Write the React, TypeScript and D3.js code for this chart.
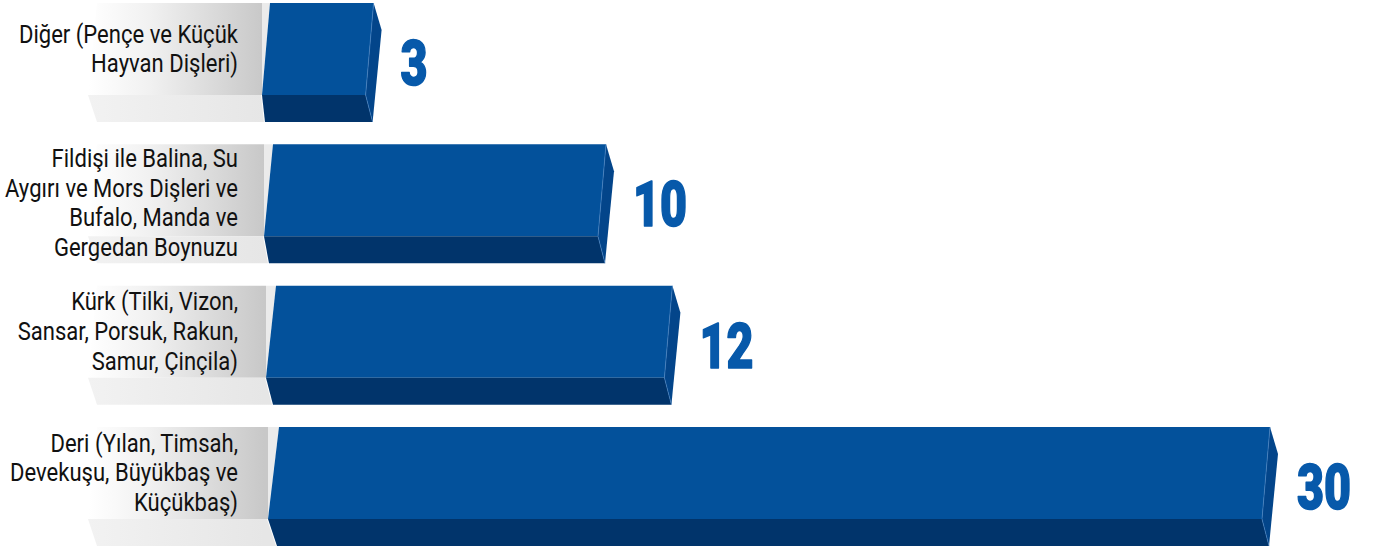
import React from 'react';
import * as d3 from 'd3';

const categoryLines: string[][] = [
  ['Diğer (Pençe ve Küçük', 'Hayvan Dişleri)'],
  ['Fildişi ile Balina, Su', 'Aygırı ve Mors Dişleri ve', 'Bufalo, Manda ve', 'Gergedan Boynuzu'],
  ['Kürk (Tilki, Vizon,', 'Sansar, Porsuk, Rakun,', 'Samur, Çinçila)'],
  ['Deri (Yılan, Timsah,', 'Devekuşu, Büyükbaş ve', 'Küçükbaş)'],
];
const values: number[] = [3, 10, 12, 30];
const categories: string[] = categoryLines.map((l) => l.join(' '));

const W = 1383;
const H = 551;

const pts = (p: number[][]) => p.map((d) => d.join(',')).join(' ');

export default function App() {
  const y = d3
    .scaleBand<string>()
    .domain(categories)
    .range([3, 546])
    .paddingInner(0.158)
    .paddingOuter(0);
  const x = d3.scaleLinear().domain([0, 30]).range([274, 1270]);
  const bh = y.bandwidth();

  return (
    <svg
      width={W}
      height={H}
      style={{ position: 'absolute', left: 0, top: 0, background: '#fff' }}
    >
      <defs>
        <linearGradient id="grayFace" gradientUnits="userSpaceOnUse" x1={88} x2={264} y1={0} y2={0}>
          <stop offset="0" stopColor="#ffffff" />
          <stop offset="0.35" stopColor="#f1f1f1" />
          <stop offset="1" stopColor="#c8c8c8" />
        </linearGradient>
        <linearGradient id="grayBand" gradientUnits="userSpaceOnUse" x1={88} x2={264} y1={0} y2={0}>
          <stop offset="0" stopColor="#f2f2f2" />
          <stop offset="1" stopColor="#e6e6e6" />
        </linearGradient>
      </defs>
      {categories.map((cat, i) => {
        const T = y(cat) as number;
        const B = T + bh;
        const J = T + bh * (92 / 119);
        const base = 262 + i * 2;
        const topLeft = 270 + i * 3;
        const bottomLeft = 265 + i * 4;
        const xR = x(values[i]);
        const sideY = T + bh * (27 / 119);
        const lines = categoryLines[i];
        const lh = 29.7;
        const firstBase = T + 1.5 + Math.max(21, 44 - ((lines.length - 1) * lh) / 2 + 9);
        const numBase = T + bh / 2 + 22.5;
        return (
          <g key={cat}>
            {/* gray label panel */}
            <polygon points={pts([[97, T], [base, T], [base, J], [88, J]])} fill="url(#grayFace)" />
            <polygon points={pts([[88, J], [base - 1, J], [bottomLeft - 1, B], [97, B]])} fill="url(#grayBand)" />
            <polygon points={pts([[base, T], [topLeft, T], [base, J]])} fill="#ebebeb" />
            {/* blue 3D bar */}
            <polygon points={pts([[topLeft, T], [xR, T], [xR - 8, J], [base, J]])} fill="#03519b" />
            <polygon points={pts([[base, J], [xR - 8, J], [xR - 1, B], [bottomLeft, B]])} fill="#01346b" />
            <polygon points={pts([[xR, T], [xR + 8, sideY], [xR - 1, B], [xR - 8, J]])} fill="#03458a" />
            <polyline
              points={pts([[xR, T], [xR - 8, J], [xR - 1, B]])}
              fill="none"
              stroke="#4a86c6"
              strokeWidth={0.8}
              opacity={0.8}
            />
            {/* category label */}
            {lines.map((ln, k) => (
              <text
                key={k}
                transform={`translate(238,${firstBase + k * lh}) scale(0.865,1)`}
                textAnchor="end"
                fontFamily="Roboto, 'Noto Sans', sans-serif"
                fontSize={25.5}
                fill="#111"
              >
                {ln}
              </text>
            ))}
            {/* value label */}
            <text
              transform={`translate(${xR + 8 + 19},${numBase}) scale(0.74,1)`}
              fontFamily="Roboto, 'Noto Sans', sans-serif"
              fontWeight={900}
              fontSize={63}
              fill="#0759aa"
              stroke="#0759aa"
              strokeWidth={1.6}
              strokeLinejoin="round"
            >
              {values[i]}
            </text>
          </g>
        );
      })}
    </svg>
  );
}
